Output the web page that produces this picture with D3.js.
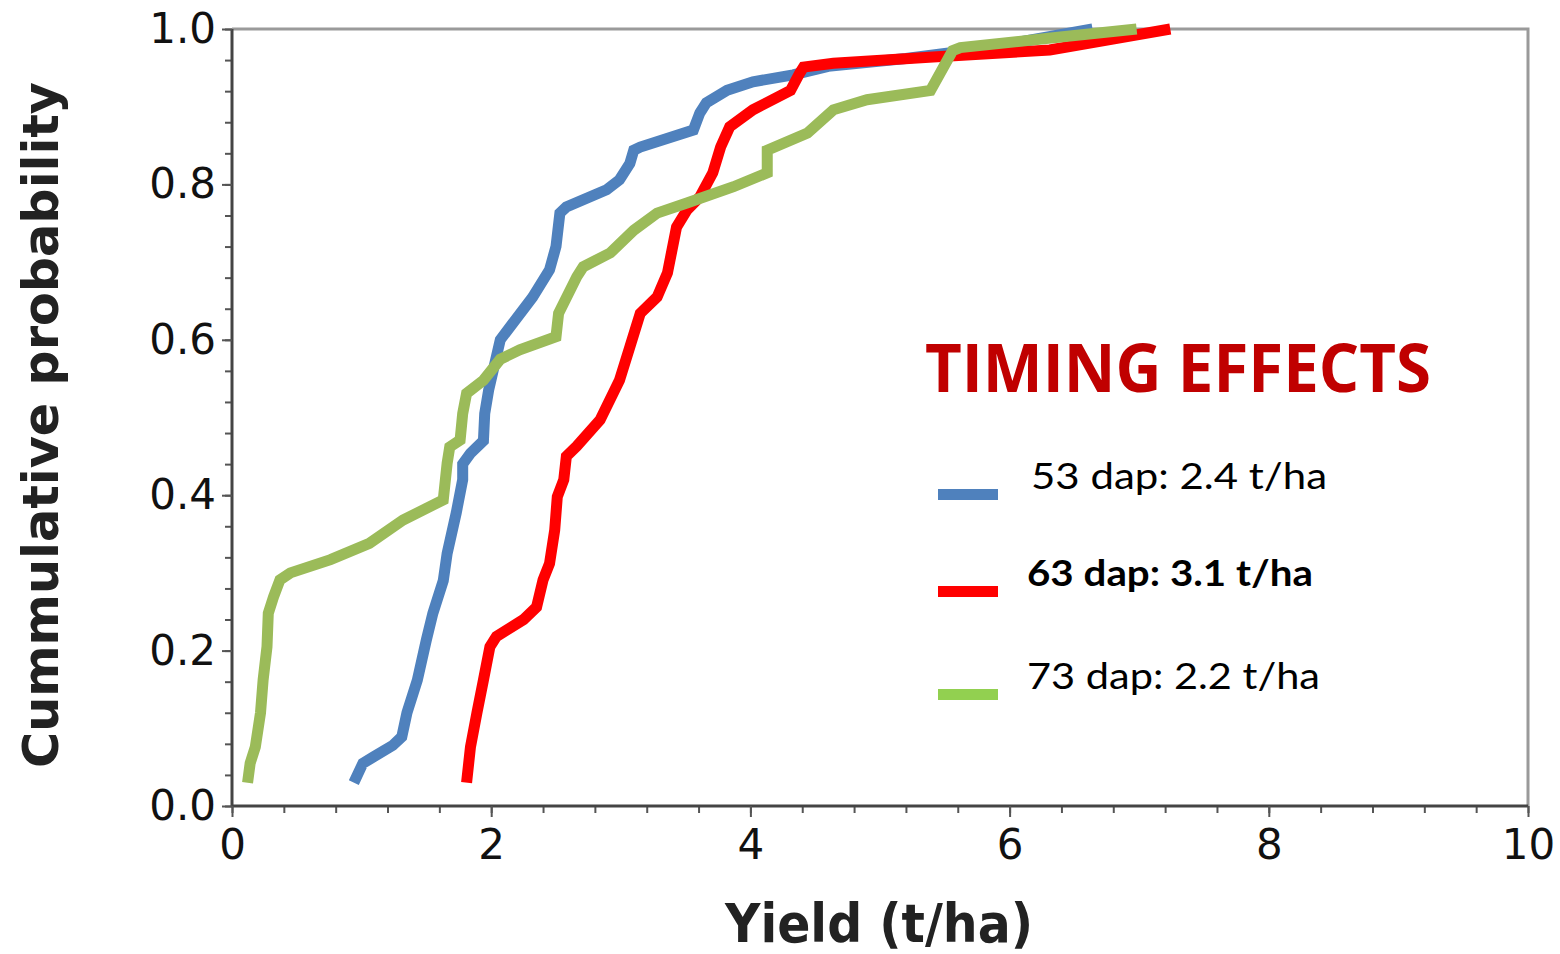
<!DOCTYPE html>
<html>
<head>
<meta charset="utf-8">
<script src="https://cdn.jsdelivr.net/npm/d3@7"></script>
<style>
  body { margin: 0; background: #fff; }
  svg { display: block; }
</style>
</head>
<body>
<div id="chart"></div>
<script>
// yield (t/ha) vs cumulative probability
const dap53 = [
  [0.94, 0.03], [1.01, 0.055], [1.09, 0.063], [1.24, 0.078], [1.31, 0.089], [1.35, 0.12],
  [1.43, 0.162], [1.50, 0.214], [1.55, 0.248], [1.63, 0.29], [1.66, 0.325], [1.73, 0.377],
  [1.78, 0.42], [1.78, 0.44], [1.84, 0.454], [1.94, 0.47], [1.95, 0.505], [1.98, 0.535],
  [2.07, 0.60], [2.32, 0.655], [2.45, 0.69], [2.50, 0.72], [2.53, 0.763], [2.58, 0.771],
  [2.89, 0.793], [2.99, 0.806], [3.07, 0.827], [3.10, 0.844], [3.15, 0.848], [3.56, 0.87],
  [3.61, 0.892], [3.66, 0.905], [3.82, 0.921], [4.02, 0.932], [4.33, 0.941], [4.60, 0.952],
  [5.20, 0.962], [5.80, 0.975], [6.64, 1.0]
];
const dap63 = [
  [1.81, 0.03], [1.84, 0.076], [1.89, 0.12], [1.94, 0.162], [1.99, 0.205], [2.04, 0.218],
  [2.25, 0.24], [2.35, 0.256], [2.40, 0.291], [2.45, 0.312], [2.49, 0.355], [2.51, 0.398],
  [2.56, 0.42], [2.58, 0.45], [2.66, 0.463], [2.84, 0.497], [2.99, 0.548], [3.07, 0.591],
  [3.15, 0.634], [3.28, 0.655], [3.36, 0.686], [3.43, 0.745], [3.51, 0.767], [3.61, 0.784],
  [3.71, 0.815], [3.77, 0.848], [3.84, 0.874], [4.02, 0.896], [4.31, 0.921], [4.38, 0.943],
  [4.41, 0.951], [4.64, 0.956], [5.41, 0.964], [6.31, 0.973], [7.24, 1.0]
];
const dap73 = [
  [0.12, 0.03], [0.14, 0.055], [0.18, 0.076], [0.22, 0.12], [0.24, 0.162], [0.27, 0.205],
  [0.28, 0.248], [0.32, 0.269], [0.37, 0.291], [0.45, 0.30], [0.76, 0.317], [1.06, 0.338],
  [1.32, 0.368], [1.63, 0.394], [1.66, 0.441], [1.68, 0.462], [1.76, 0.471], [1.78, 0.505],
  [1.81, 0.531], [1.94, 0.548], [2.07, 0.575], [2.22, 0.587], [2.50, 0.604], [2.52, 0.634],
  [2.66, 0.681], [2.71, 0.694], [2.92, 0.712], [3.10, 0.741], [3.28, 0.763], [3.51, 0.776],
  [3.87, 0.797], [4.13, 0.815], [4.13, 0.844], [4.44, 0.866], [4.64, 0.896], [4.90, 0.909],
  [5.39, 0.921], [5.56, 0.972], [5.62, 0.976], [6.30, 0.988], [6.98, 1.0]
];

const seriesNames = ['53 dap: 2.4 t/ha', '63 dap: 3.1 t/ha', '73 dap: 2.2 t/ha'];
const seriesColors = ['#4f81bd', '#ff0000', '#9bbb59'];
const legendColors = ['#4f81bd', '#ff0000', '#92d050'];
const xTicks = [0, 2, 4, 6, 8, 10];
const yTicks = [0, 0.2, 0.4, 0.6, 0.8, 1.0];

const width = 1560;
const height = 954;
const plotLeft = 232, plotRight = 1528, plotTop = 29, plotBottom = 806;

const svg = d3.select('#chart')
  .append('svg')
  .attr('width', width)
  .attr('height', height)

const xScale = d3.scaleLinear().domain([0, 10]).range([plotLeft, plotRight])
const yScale = d3.scaleLinear().domain([0, 1]).range([plotBottom, plotTop])

// frame (top + right are lighter)
svg.append('path')
  .attr('d', `M${plotLeft},${plotTop}H${plotRight}V${plotBottom}`)
  .attr('fill', 'none')
  .attr('stroke', '#9a9a9a')
  .attr('stroke-width', 3)

const tickFont = '"DejaVu Sans", Verdana, sans-serif';

// minor ticks
const xAxisMinor = d3.axisBottom(xScale)
  .tickValues(d3.range(0, 10.01, 0.4))
  .tickSize(7)
  .tickFormat('')
const yAxisMinor = d3.axisLeft(yScale)
  .tickValues(d3.range(0, 1.001, 0.04))
  .tickSize(7)
  .tickFormat('')

svg.append('g')
  .attr('transform', `translate(0, ${plotBottom})`)
  .call(xAxisMinor)
  .call(g => g.selectAll('line').attr('stroke', '#555').attr('stroke-width', 2))
  .call(g => g.select('.domain').remove())

svg.append('g')
  .attr('transform', `translate(${plotLeft}, 0)`)
  .call(yAxisMinor)
  .call(g => g.selectAll('line').attr('stroke', '#555').attr('stroke-width', 2))
  .call(g => g.select('.domain').remove())

const xAxis = d3.axisBottom(xScale)
  .tickValues(xTicks)
  .tickSize(11)
  .tickPadding(12)
  .tickFormat(d3.format('d'))

const yAxis = d3.axisLeft(yScale)
  .tickValues(yTicks)
  .tickSize(10)
  .tickPadding(6)
  .tickFormat(d3.format('.1f'))

svg.append('g')
  .attr('id', 'x-axis')
  .attr('transform', `translate(0, ${plotBottom})`)
  .call(xAxis)
  .call(g => g.select('.domain').attr('d', `M${plotLeft},0H${plotRight}`).attr('stroke', '#444').attr('stroke-width', 3))
  .call(g => g.selectAll('line').attr('stroke', '#555').attr('stroke-width', 2))
  .call(g => g.selectAll('text')
    .attr('font-family', tickFont)
    .attr('font-size', 42)
    .attr('fill', '#111'))

svg.append('g')
  .attr('id', 'y-axis')
  .attr('transform', `translate(${plotLeft}, 0)`)
  .call(yAxis)
  .call(g => g.select('.domain').attr('d', `M0,${plotBottom}V${plotTop}`).attr('stroke', '#444').attr('stroke-width', 3))
  .call(g => g.selectAll('line').attr('stroke', '#555').attr('stroke-width', 2))
  .call(g => g.selectAll('text')
    .attr('font-family', tickFont)
    .attr('font-size', 42)
    .attr('fill', '#111'))

// curves
const line = d3.line()
  .x(d => xScale(d[0]))
  .y(d => yScale(d[1]))

const allSeries = [dap53, dap63, dap73];

svg.selectAll('.curve')
  .data(allSeries)
  .enter()
  .append('path')
  .attr('class', 'curve')
  .attr('d', line)
  .attr('fill', 'none')
  .attr('stroke', (d, i) => seriesColors[i])
  .attr('stroke-width', 11)
  .attr('stroke-linejoin', 'miter')

// axis titles
svg.append('text')
  .attr('x', 879)
  .attr('y', 942)
  .attr('text-anchor', 'middle')
  .attr('font-family', tickFont)
  .attr('font-weight', 'bold')
  .attr('font-size', 54)
  .attr('fill', '#222')
  .attr('textLength', 308)
  .attr('lengthAdjust', 'spacingAndGlyphs')
  .text('Yield (t/ha)')

svg.append('text')
  .attr('transform', 'rotate(-90)')
  .attr('x', -425)
  .attr('y', 58)
  .attr('text-anchor', 'middle')
  .attr('font-family', tickFont)
  .attr('font-weight', 'bold')
  .attr('font-size', 50)
  .attr('fill', '#222')
  .attr('textLength', 686)
  .attr('lengthAdjust', 'spacingAndGlyphs')
  .text('Cummulative probability')

// legend
svg.append('text')
  .attr('x', 925)
  .attr('y', 392)
  .attr('font-family', '"Open Sans", sans-serif')
  .attr('font-weight', 'bold')
  .attr('font-size', 66)
  .attr('fill', '#c00000')
  .attr('textLength', 506)
  .attr('lengthAdjust', 'spacingAndGlyphs')
  .text('TIMING EFFECTS')

const legendRows = [489, 586, 689];
const legendTextX = [1031, 1027, 1027];
const legendTextW = [296, 286, 293];

const legend = svg.selectAll('.legend')
  .data(seriesNames)
  .enter()
  .append('g')
  .attr('class', 'legend')
  .attr('transform', (d, i) => `translate(0, ${legendRows[i]})`)

legend.append('rect')
  .attr('x', 938)
  .attr('y', 0)
  .attr('width', 60)
  .attr('height', 11)
  .style('fill', (d, i) => legendColors[i])

legend.append('text')
  .attr('x', (d, i) => legendTextX[i])
  .attr('y', 0)
  .attr('font-family', 'Lato, sans-serif')
  .attr('font-weight', (d, i) => i === 1 ? 'bold' : 'normal')
  .attr('font-size', 37)
  .attr('fill', '#000')
  .attr('textLength', (d, i) => legendTextW[i])
  .attr('lengthAdjust', 'spacingAndGlyphs')
  .text(d => d)
</script>
</body>
</html>
